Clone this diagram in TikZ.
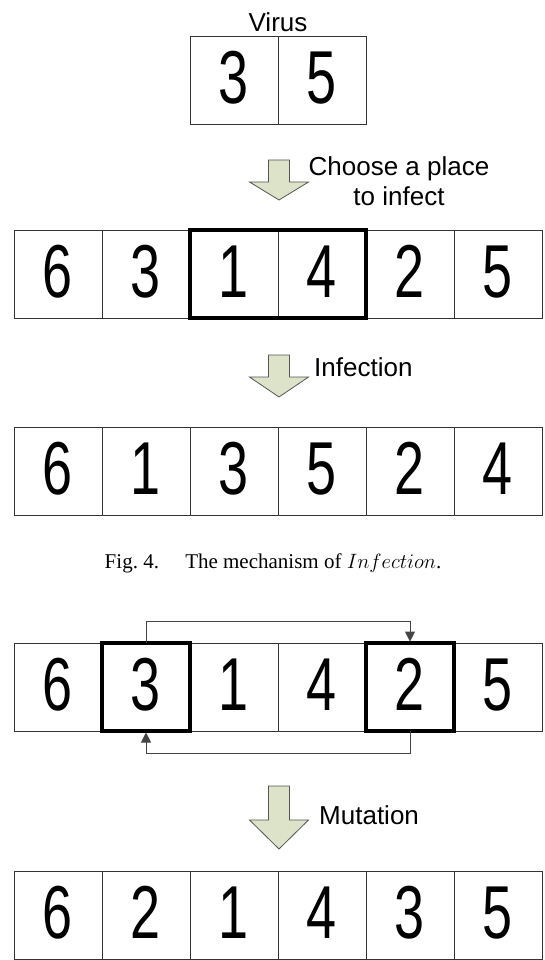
\documentclass[tikz,border=0pt]{standalone}
\usepackage{fontspec}
\usepackage{tikz}
\usetikzlibrary{arrows.meta,positioning}
\newfontfamily\labelfont{Liberation Sans}
\newfontfamily\digitfont[FakeStretch=0.72]{Liberation Sans}
\newfontfamily\capfont{Liberation Serif}
\definecolor{cellline}{HTML}{333333}
\definecolor{sage}{HTML}{DDE3C9}
\definecolor{sageline}{HTML}{555555}
\definecolor{linkgray}{HTML}{444444}

% block arrow pointing down: centre x, shaft top, head base, tip
\newcommand\blockdown[4]{%
  \draw[blockarr] (#1-10.5,#2) -- (#1+10.5,#2) -- (#1+10.5,#3) -- (#1+29.5,#3)
    -- (#1,#4) -- (#1-29.5,#3) -- (#1-10.5,#3) -- cycle;}

\begin{document}
\begin{tikzpicture}[
  x=1pt,y=-1pt,
  cell/.style={draw=cellline,line width=1pt,minimum width=88pt,minimum height=88pt,inner sep=0pt,outer sep=0pt,
    text height=54pt,text depth=8pt,font=\digitfont\fontsize{75}{75}\selectfont},
  hilite/.style={draw=black,line width=3.5pt,line join=miter},
  blockarr/.style={draw=sageline,fill=sage,line width=0.8pt,line join=miter},
  tag/.style={font=\labelfont\fontsize{26}{30}\selectfont,inner sep=0pt},
  swap/.style={draw=linkgray,line width=1pt,-{Triangle[length=10pt,width=10pt]},shorten >=1.5pt}
]
\useasboundingbox (0,0) rectangle (544,960);

% virus
\node[tag] (virus) at (278,22) {Virus};
\node[cell] (v1) at (234,81) {3};
\node[cell] (v2) at (322,81) {5};

\blockdown{279}{160}{182}{200}
\node[tag,align=center] (choose) at (399,181) {Choose a place\\to infect};

% rows of six cells
\foreach \r/\y/\digits in {2/274/{6,3,1,4,2,5},3/471/{6,1,3,5,2,4},4/687/{6,3,1,4,2,5},5/915/{6,2,1,4,3,5}}{
  \foreach \d [count=\c] in \digits
    \node[cell] (r\r c\c) at (58+88*\c-88,\y) {\d};
}
\draw[hilite] (r2c3.north west) rectangle (r2c4.south east);

\blockdown{279}{355}{377}{397}
\node[tag,anchor=west] (infect) at (314,367) {Infection};

\node[font=\capfont\fontsize{21}{24}\selectfont,inner sep=0pt] (caption) at (273,563)
  {Fig.~4.\quad\ The mechanism of $Infection$.};

% mutation
\draw[hilite] (r4c2.north west) rectangle (r4c2.south east);
\draw[hilite] (r4c5.north west) rectangle (r4c5.south east);
\draw[swap] (r4c2.north) -- ++(0,-22) -| (r4c5.north);
\draw[swap] (r4c5.south) -- ++(0,22) -| (r4c2.south);

\blockdown{279}{786}{820}{849}
\node[tag,anchor=west] (mutate) at (319,815) {Mutation};
\end{tikzpicture}
\end{document}
